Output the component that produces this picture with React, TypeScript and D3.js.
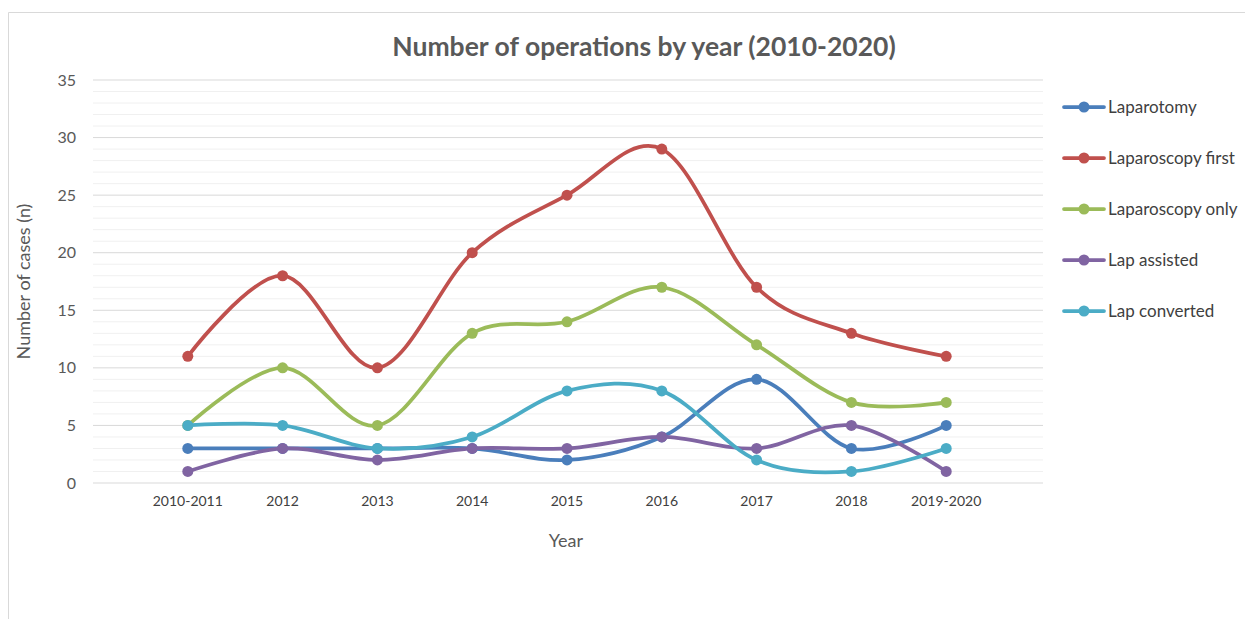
import React from "react";
import * as d3 from "d3";

const categories = ["2010-2011", "2012", "2013", "2014", "2015", "2016", "2017", "2018", "2019-2020"];
const seriesNames = ["Laparotomy", "Laparoscopy first", "Laparoscopy only", "Lap assisted", "Lap converted"];
const laparotomy = [3, 3, 3, 3, 2, 4, 9, 3, 5];
const laparoscopyFirst = [11, 18, 10, 20, 25, 29, 17, 13, 11];
const laparoscopyOnly = [5, 10, 5, 13, 14, 17, 12, 7, 7];
const lapAssisted = [1, 3, 2, 3, 3, 4, 3, 5, 1];
const lapConverted = [5, 5, 3, 4, 8, 8, 2, 1, 3];
const seriesColors = ["#4A7EBB", "#C0504D", "#9BBB59", "#8064A2", "#4BACC6"];
const yTicks = [0, 5, 10, 15, 20, 25, 30, 35];

const W = 1245;
const H = 611;
// svg origin is page (8,8)
const left = 85;
const right = 1033;
const top = 72;
const bottom = 475;
const font = "Lato, 'Open Sans', sans-serif";

export default function App() {
  const seriesData = [laparotomy, laparoscopyFirst, laparoscopyOnly, lapAssisted, lapConverted];
  const x = d3.scalePoint<string>().domain(categories).range([left, right]).padding(1);
  const y = d3.scaleLinear().domain([0, 35]).range([bottom, top]);
  const line = d3
    .line<number>()
    .x((_, i) => x(categories[i]) as number)
    .y((d) => y(d))
    .curve(d3.curveCardinal.tension(0));
  const minor = d3.range(0, 36).filter((v) => v % 5 !== 0);
  const legendY0 = 99;
  const legendStep = 51;
  return (
    <svg width={W} height={H} style={{ display: "block" }}>
      <rect x={0} y={0} width={W} height={H} fill="#fff" />
      <line x1={0.5} x2={W} y1={4.5} y2={4.5} stroke="#d9d9d9" strokeWidth={1} />
      <line x1={0.5} x2={0.5} y1={4.5} y2={H} stroke="#d9d9d9" strokeWidth={1} />
      <text x={636} y={48} textAnchor="middle" fontFamily={font} fontWeight="bold" fontSize={26.5} fill="#595959">
        Number of operations by year (2010-2020)
      </text>
      {minor.map((v) => (
        <line key={"m" + v} x1={left} x2={right + 2} y1={y(v)} y2={y(v)} stroke="#f0f0f0" strokeWidth={1} />
      ))}
      {yTicks.map((v) => (
        <line key={"g" + v} x1={left} x2={right + 2} y1={y(v)} y2={y(v)} stroke="#d9d9d9" strokeWidth={1} />
      ))}
      {yTicks.map((v) => (
        <text key={"t" + v} x={68} y={y(v)} dy="0.35em" textAnchor="end" fontFamily={font} fontSize={16} fill="#595959">
          {v}
        </text>
      ))}
      {categories.map((c) => (
        <text key={c} x={x(c)} y={498} textAnchor="middle" fontFamily={font} fontSize={14} fill="#404040">
          {c}
        </text>
      ))}
      <text x={558} y={539} textAnchor="middle" fontFamily={font} fontSize={18} fill="#595959">
        Year
      </text>
      <text
        transform={`translate(22,${(top + bottom) / 2}) rotate(-90)`}
        textAnchor="middle"
        fontFamily={font}
        fontSize={18}
        fill="#595959"
      >
        Number of cases (n)
      </text>
      {seriesData.map((vals, si) => (
        <g key={seriesNames[si]}>
          <path d={line(vals) || ""} fill="none" stroke={seriesColors[si]} strokeWidth={3.75} strokeLinecap="round" />
          {vals.map((v, i) => (
            <circle key={i} cx={x(categories[i])} cy={y(v)} r={5.5} fill={seriesColors[si]} />
          ))}
        </g>
      ))}
      {seriesNames.map((n, si) => {
        const ly = legendY0 + si * legendStep;
        return (
          <g key={"l" + n}>
            <line x1={1056} x2={1096} y1={ly} y2={ly} stroke={seriesColors[si]} strokeWidth={3.75} strokeLinecap="round" />
            <circle cx={1076} cy={ly} r={5.5} fill={seriesColors[si]} />
            <text x={1100} y={ly} dy="0.35em" fontFamily={font} fontSize={17} fill="#404040">
              {n}
            </text>
          </g>
        );
      })}
    </svg>
  );
}
